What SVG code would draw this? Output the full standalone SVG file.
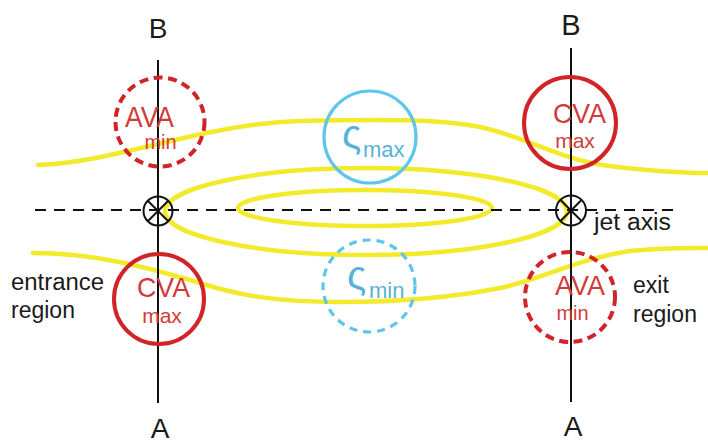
<svg xmlns="http://www.w3.org/2000/svg" width="708" height="443" viewBox="0 0 708 443">
<style>
.yel{fill:none;stroke:#f2ea2a;stroke-width:4.5;stroke-linecap:round}
.red{fill:none;stroke:#d02428;stroke-width:4}
.reddash{stroke-dasharray:9 5.5}
.cyan{fill:none;stroke:#5ec6ea;stroke-width:3.2}
.cyandash{stroke-dasharray:8 6}
.blk{stroke:#111;stroke-width:2;fill:none}
.lab{font-family:"Liberation Sans",Arial,sans-serif;fill:#1a1a1a}
.rt{font-family:"Liberation Sans",Arial,sans-serif;fill:#d23a3a;text-anchor:middle}
.ct{font-family:"Liberation Sans",Arial,sans-serif;fill:#58b2d8}
</style>
<rect width="708" height="443" fill="#fff"/>
<g id="isotachs">
<path class="yel" d="M38,165 C120,162 200,124 300,121 C380,119 440,119 480,127 C530,138 560,160 610,166 C650,171 680,173 708,173"/>
<path class="yel" d="M33,253 C90,253 140,265 200,283 C240,296 280,302 340,302 C400,302 450,298 500,288 C540,280 580,258 630,251 C670,247 690,248 708,248"/>
<ellipse class="yel" cx="366" cy="211.5" rx="201" ry="43.5"/>
<ellipse class="yel" cx="365" cy="208" rx="127" ry="18"/>
</g>
<g id="connectors">
<line class="blk" x1="35" y1="210" x2="680" y2="210" stroke-dasharray="11 8"/>
<line class="blk" x1="158" y1="60" x2="158" y2="403"/>
<line class="blk" x1="571" y1="48" x2="571" y2="402"/>
</g>
<g id="jet-entrance-symbol">
<circle class="blk" cx="158" cy="211" r="14.5"/>
<line class="blk" x1="148" y1="201" x2="168" y2="221"/>
<line class="blk" x1="168" y1="201" x2="148" y2="221"/>
</g>
<g id="jet-exit-symbol">
<circle class="blk" cx="571" cy="210.5" r="15"/>
<line class="blk" x1="560.5" y1="200" x2="581.5" y2="221"/>
<line class="blk" x1="581.5" y1="200" x2="560.5" y2="221"/>
</g>
<g id="ava-min-left">
<circle class="red reddash" cx="160" cy="122" r="44.5"/>
<text class="rt" x="149.5" y="127" font-size="29" textLength="49" lengthAdjust="spacingAndGlyphs">AVA</text>
<text class="rt" x="160.5" y="149" font-size="20">min</text>
</g>
<g id="cva-max-left">
<circle class="red" cx="159" cy="299" r="45"/>
<text class="rt" x="163.5" y="297" font-size="28" textLength="53" lengthAdjust="spacingAndGlyphs">CVA</text>
<text class="rt" x="162" y="323" font-size="21">max</text>
</g>
<g id="cva-max-right">
<circle class="red" cx="570" cy="123" r="46"/>
<text class="rt" x="579.5" y="123" font-size="28" textLength="53" lengthAdjust="spacingAndGlyphs">CVA</text>
<text class="rt" x="575" y="148" font-size="21">max</text>
</g>
<g id="ava-min-right">
<circle class="red reddash" cx="570" cy="297" r="45"/>
<text class="rt" x="580" y="295" font-size="28" textLength="50" lengthAdjust="spacingAndGlyphs">AVA</text>
<text class="rt" x="572.5" y="320" font-size="20">min</text>
</g>
<g id="vort-max">
<circle class="cyan" cx="370" cy="137" r="46"/>
<text class="ct" x="342" y="148" font-size="40">ς</text>
<text class="ct" x="363" y="157" font-size="22">max</text>
</g>
<g id="vort-min">
<circle class="cyan cyandash" cx="369" cy="286" r="46"/>
<text class="ct" x="347" y="289" font-size="40">ς</text>
<text class="ct" x="369" y="298" font-size="22">min</text>
</g>
<g id="labels">
<text class="lab" x="158" y="38" font-size="28" text-anchor="middle">B</text>
<text class="lab" x="571" y="35" font-size="29" text-anchor="middle">B</text>
<text class="lab" x="160" y="438" font-size="28" text-anchor="middle">A</text>
<text class="lab" x="573" y="436" font-size="28" text-anchor="middle">A</text>
<text class="lab" x="594" y="230" font-size="23" textLength="77" lengthAdjust="spacingAndGlyphs">jet axis</text>
<text class="lab" x="11" y="290" font-size="23" textLength="93" lengthAdjust="spacingAndGlyphs">entrance</text>
<text class="lab" x="11" y="318" font-size="23">region</text>
<text class="lab" x="633" y="293" font-size="23">exit</text>
<text class="lab" x="633" y="322" font-size="23">region</text>
</g>
</svg>
